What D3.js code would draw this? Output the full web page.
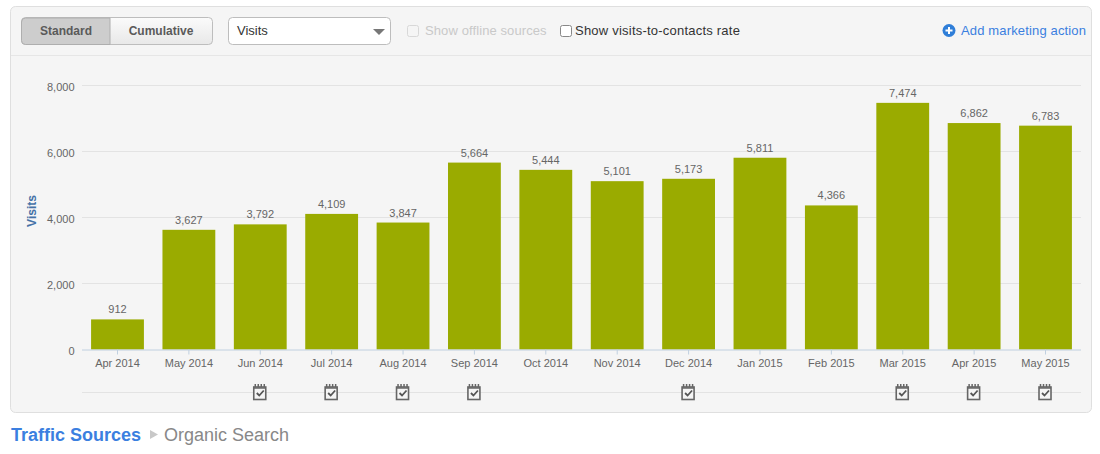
<!DOCTYPE html>
<html>
<head>
<meta charset="utf-8">
<script src="https://cdn.jsdelivr.net/npm/d3@7"></script>
<style>
html, body { margin: 0; padding: 0; background: #fff; }
svg { display: block; }
text { font-family: "Liberation Sans", Arial, sans-serif; }
</style>
</head>
<body>
<div id="chart"></div>
<script>
// chart data
var months = ["Apr 2014", "May 2014", "Jun 2014", "Jul 2014", "Aug 2014", "Sep 2014", "Oct 2014",
  "Nov 2014", "Dec 2014", "Jan 2015", "Feb 2015", "Mar 2015", "Apr 2015", "May 2015"];
var visits = [912, 3627, 3792, 4109, 3847, 5664, 5444, 5101, 5173, 5811, 4366, 7474, 6862, 6783];
var yTicks = [0, 2000, 4000, 6000, 8000];
// months that carry a marketing action icon
var actionMonths = ["Jun 2014", "Jul 2014", "Aug 2014", "Sep 2014", "Dec 2014", "Mar 2015", "Apr 2015", "May 2015"];

var w = 1100, h = 454;
var svg = d3.select("#chart").append("svg").attr("width", w).attr("height", h);

// panel
svg.append("rect").attr("x", 10.5).attr("y", 6.5).attr("width", 1081).attr("height", 406)
  .attr("rx", 5).attr("fill", "#f5f5f5").attr("stroke", "#dfdfdf");
svg.append("line").attr("x1", 11).attr("x2", 1091).attr("y1", 55.5).attr("y2", 55.5).attr("stroke", "#e6e6e6");

// toolbar: Standard / Cumulative toggle
var grad = svg.append("defs").append("linearGradient").attr("id", "btn").attr("x2", 0).attr("y2", 1);
grad.append("stop").attr("offset", 0).attr("stop-color", "#fbfbfb");
grad.append("stop").attr("offset", 1).attr("stop-color", "#e8e8e8");
svg.append("rect").attr("x", 21.5).attr("y", 17.5).attr("width", 191).attr("height", 27)
  .attr("rx", 4).attr("fill", "url(#btn)").attr("stroke", "#bdbdbd");
svg.append("path").attr("d", "M110 18H25.5a4 4 0 0 0 -4 4V40.5a4 4 0 0 0 4 4H110Z")
  .attr("fill", "#cdcdcd").attr("stroke", "#aeaeae");
svg.append("text").attr("x", 66).attr("y", 35).attr("text-anchor", "middle")
  .attr("font-size", 12).attr("font-weight", "bold").attr("fill", "#5a5a5a").text("Standard");
svg.append("text").attr("x", 161).attr("y", 35).attr("text-anchor", "middle")
  .attr("font-size", 12).attr("font-weight", "bold").attr("fill", "#5a5a5a").text("Cumulative");

// metric dropdown
svg.append("rect").attr("x", 228.5).attr("y", 17.5).attr("width", 162).attr("height", 27)
  .attr("rx", 4).attr("fill", "#fff").attr("stroke", "#bdbdbd");
svg.append("text").attr("x", 237).attr("y", 35).attr("font-size", 13).attr("fill", "#333").text("Visits");
svg.append("path").attr("d", "M373 29H385L379 35Z").attr("fill", "#777");

// checkboxes
svg.append("rect").attr("x", 407.5).attr("y", 25.5).attr("width", 11).attr("height", 11).attr("rx", 2)
  .attr("fill", "#f5f5f5").attr("stroke", "#d8d8d8");
svg.append("text").attr("x", 425).attr("y", 35).attr("font-size", 13).attr("letter-spacing", 0.1)
  .attr("fill", "#c9c9c9").text("Show offline sources");
svg.append("rect").attr("x", 560.5).attr("y", 25.5).attr("width", 11).attr("height", 11).attr("rx", 2)
  .attr("fill", "#fff").attr("stroke", "#888");
svg.append("text").attr("x", 575).attr("y", 35).attr("font-size", 13).attr("letter-spacing", 0.22)
  .attr("fill", "#333").text("Show visits-to-contacts rate");

// add marketing action link
svg.append("circle").attr("cx", 949).attr("cy", 30.5).attr("r", 6.5).attr("fill", "#2f7ed8");
svg.append("path").attr("d", "M945.5 30.5H952.5M949 27V34").attr("stroke", "#fff").attr("stroke-width", 2);
svg.append("text").attr("x", 961).attr("y", 35).attr("font-size", 13).attr("letter-spacing", 0.15)
  .attr("fill", "#3b7fe0").text("Add marketing action");

// scales
var x = d3.scaleBand().domain(months).range([81.8, 1081.2]).paddingInner(0.26).paddingOuter(0.13);
var y = d3.scaleLinear().domain([0, 8000]).range([349.5, 85.5]);

// y axis + grid
var yAxis = d3.axisLeft(y).tickValues(yTicks).tickSize(0).tickPadding(7).tickFormat(d3.format(","));
var gy = svg.append("g").attr("transform", "translate(81.5,0)").call(yAxis);
gy.select(".domain").remove();
gy.selectAll("text").attr("font-size", 11).attr("fill", "#666").attr("font-family", null).attr("y", 1.5);
svg.append("g").selectAll("line").data(yTicks.filter(function(d) { return d > 0; })).enter().append("line")
  .attr("x1", 82).attr("x2", 1081)
  .attr("y1", function(d) { return y(d); }).attr("y2", function(d) { return y(d); })
  .attr("stroke", "#e3e3e3");

svg.append("text").attr("transform", "translate(36,211) rotate(-90)").attr("text-anchor", "middle")
  .attr("font-size", 12).attr("font-weight", "bold").attr("fill", "#4572a7").text("Visits");

// bars
svg.append("g").selectAll("rect").data(visits).enter().append("rect")
  .attr("x", function(d, i) { return x(months[i]); })
  .attr("y", function(d) { return y(d); })
  .attr("width", x.bandwidth())
  .attr("height", function(d) { return y(0) - y(d); })
  .attr("fill", "#9aab00");

// value labels
svg.append("g").selectAll("text").data(visits).enter().append("text")
  .attr("x", function(d, i) { return x(months[i]) + x.bandwidth() / 2; })
  .attr("y", function(d) { return y(d) - 6; })
  .attr("text-anchor", "middle").attr("font-size", 11).attr("fill", "#666")
  .text(d3.format(","));

// x axis
var xAxis = d3.axisBottom(x).tickSize(5).tickPadding(5);
var gx = svg.append("g").attr("transform", "translate(0,349.5)").call(xAxis);
gx.select(".domain").attr("stroke", "#c0d0e0").attr("d", "M82,0.5H1081");
gx.selectAll("line").attr("stroke", "#c0d0e0");
gx.selectAll("text").attr("font-size", 11).attr("fill", "#666").attr("font-family", null);

// marketing actions row
svg.append("line").attr("x1", 82).attr("x2", 1081).attr("y1", 392.5).attr("y2", 392.5).attr("stroke", "#e3e3e3");
var icons = svg.append("g").selectAll("g").data(actionMonths).enter().append("g")
  .attr("transform", function(d) { return "translate(" + (x(d) + x.bandwidth() / 2 - 0.5) + ",392.5)"; });
icons.append("rect").attr("x", -6).attr("y", -5.5).attr("width", 12).attr("height", 12.5)
  .attr("fill", "#f5f5f5").attr("stroke", "#666").attr("stroke-width", 1.6);
icons.append("path").attr("d", "M-4.5-5.5V-8.5M-1.5-5.5V-8.5M1.5-5.5V-8.5M4.5-5.5V-8.5").attr("stroke", "#666").attr("stroke-width", 1.5);
icons.append("path").attr("d", "M-6-4.5H6").attr("stroke", "#666").attr("stroke-width", 1.5);
icons.append("path").attr("d", "M-3 0.5L-0.5 3L4-2").attr("fill", "none").attr("stroke", "#555").attr("stroke-width", 1.8);

// breadcrumb
svg.append("text").attr("x", 11).attr("y", 440.5).attr("font-size", 18).attr("font-weight", "bold")
  .attr("fill", "#3b7fe0").text("Traffic Sources");
svg.append("path").attr("d", "M150 430V439L158 434.5Z").attr("fill", "#c8c8c8");
svg.append("text").attr("x", 164).attr("y", 440.5).attr("font-size", 18).attr("fill", "#888")
  .text("Organic Search");
</script>
</body>
</html>
